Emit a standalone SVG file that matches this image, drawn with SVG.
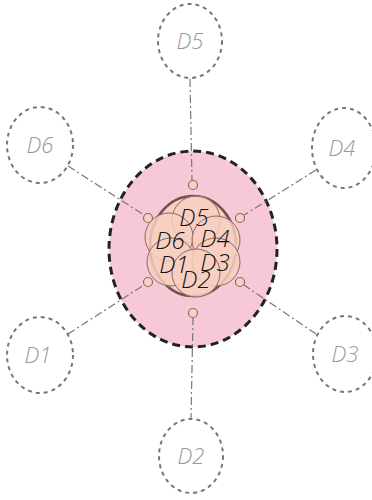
<svg xmlns="http://www.w3.org/2000/svg" width="372" height="500" viewBox="0 0 372 500">
<style>
.outer{fill:none;stroke:#777;stroke-width:2;stroke-dasharray:4,4}
.olab{font-family:"Open Sans","Liberation Sans",sans-serif;font-style:italic;font-weight:300;font-size:22px;fill:#999;text-anchor:middle}
.conn{stroke:#777;stroke-width:1.2;stroke-dasharray:8,3,2,3;fill:none}
.port{fill:#f8d0c4;stroke:#8a6a64;stroke-width:1.2}
.petal{fill:#f8cfc0;fill-opacity:0.85;stroke:#8a6a64;stroke-width:1}
.ilab{font-family:"Open Sans","Liberation Sans",sans-serif;font-style:italic;font-weight:300;font-size:24px;fill:#111;text-anchor:middle}
</style>
<g id="hub">
<ellipse cx="193" cy="249" rx="84" ry="98" fill="#f7c8d6" stroke="#222" stroke-width="3" stroke-dasharray="8,5"/>
</g>
<g id="connectors">
<line class="conn" x1="190" y1="79" x2="192" y2="181"/>
<line class="conn" x1="68" y1="166" x2="144" y2="215"/>
<line class="conn" x1="316" y1="170" x2="244" y2="215"/>
<line class="conn" x1="68" y1="334" x2="144" y2="285"/>
<line class="conn" x1="316" y1="334" x2="244" y2="285"/>
<line class="conn" x1="193" y1="317" x2="191" y2="419"/>
</g>
<g id="ports">
<circle class="port" cx="193" cy="185" r="4.5"/>
<circle class="port" cx="148" cy="218" r="4.5"/>
<circle class="port" cx="240" cy="218" r="4.5"/>
<circle class="port" cx="148" cy="282" r="4.5"/>
<circle class="port" cx="240" cy="282" r="4.5"/>
<circle class="port" cx="193" cy="313" r="4.5"/>
</g>
<g id="cluster">
<ellipse cx="193" cy="246" rx="43" ry="50" fill="#f8cfc0" stroke="#6e5450" stroke-width="2.5"/>
<circle class="petal" cx="196" cy="220" r="24"/>
<circle class="petal" cx="169" cy="237" r="24"/>
<circle class="petal" cx="216" cy="240" r="24"/>
<circle class="petal" cx="171" cy="262" r="24"/>
<circle class="petal" cx="216" cy="262" r="24"/>
<circle class="petal" cx="196" cy="273" r="24"/>
<text class="ilab" x="194" y="226">D5</text>
<text class="ilab" x="170" y="249">D6</text>
<text class="ilab" x="215" y="247">D4</text>
<text class="ilab" x="174" y="273">D1</text>
<text class="ilab" x="215" y="271">D3</text>
<text class="ilab" x="196" y="288">D2</text>
</g>
<g id="D5"><ellipse class="outer" cx="190" cy="41" rx="32" ry="37"/><text class="olab" x="190" y="49">D5</text></g>
<g id="D6"><ellipse class="outer" cx="40" cy="145" rx="33" ry="38"/><text class="olab" x="40" y="153">D6</text></g>
<g id="D4"><ellipse class="outer" cx="344" cy="148" rx="32" ry="40"/><text class="olab" x="342" y="156">D4</text></g>
<g id="D1"><ellipse class="outer" cx="40" cy="355" rx="33" ry="38"/><text class="olab" x="38" y="363">D1</text></g>
<g id="D3"><ellipse class="outer" cx="345" cy="354" rx="32" ry="38"/><text class="olab" x="345" y="362">D3</text></g>
<g id="D2"><ellipse class="outer" cx="191" cy="456" rx="32" ry="37"/><text class="olab" x="191" y="464">D2</text></g>
</svg>
